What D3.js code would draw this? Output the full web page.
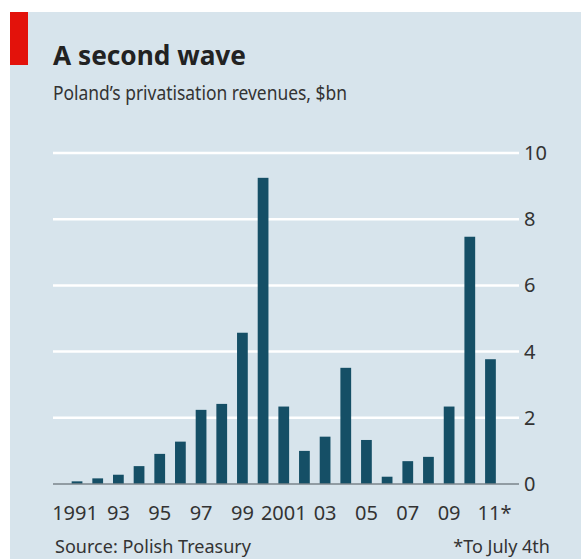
<!DOCTYPE html>
<html>
<head>
<meta charset="utf-8">
<script src="https://cdn.jsdelivr.net/npm/d3@7"></script>
<style>
  html, body { margin: 0; padding: 0; background: #ffffff; }
  svg { display: block; }
  text { font-family: "Noto Sans", "Open Sans", sans-serif; fill: #333333; }
</style>
</head>
<body>
<script>
// Poland's privatisation revenues, $bn, 1991-2011 (2011 to July 4th)
const years = [1991, 1992, 1993, 1994, 1995, 1996, 1997, 1998, 1999, 2000,
               2001, 2002, 2003, 2004, 2005, 2006, 2007, 2008, 2009, 2010, 2011];
const revenues = [0.08, 0.17, 0.28, 0.54, 0.91, 1.28, 2.24, 2.42, 4.57, 9.25,
                  2.34, 1.0, 1.43, 3.51, 1.33, 0.22, 0.69, 0.82, 2.34, 7.47, 3.77];
const yTicks = [0, 2, 4, 6, 8, 10];
const xTickYears = [1991, 1993, 1995, 1997, 1999, 2001, 2003, 2005, 2007, 2009, 2011];
const xTickLabels = ["1991", "93", "95", "97", "99", "2001", "03", "05", "07", "09", "11*"];

const W = 581, H = 559;
const svg = d3.select("body").append("svg").attr("width", W).attr("height", H);

// panel background and red tag
svg.append("rect").attr("x", 10).attr("y", 12).attr("width", W - 10).attr("height", H - 12)
  .attr("fill", "#d7e4ec");
svg.append("rect").attr("x", 10).attr("y", 12).attr("width", 18).attr("height", 53)
  .attr("fill", "#e3120b");

// headings
svg.append("text").attr("x", 53).attr("y", 65)
  .attr("font-size", 27).attr("font-weight", 700).style("fill", "#222")
  .attr("textLength", 193).attr("lengthAdjust", "spacingAndGlyphs")
  .text("A second wave");
svg.append("text").attr("x", 53).attr("y", 100)
  .attr("font-size", 19)
  .attr("textLength", 294).attr("lengthAdjust", "spacingAndGlyphs")
  .text("Poland\u2019s privatisation revenues, $bn");

// scales
const x = d3.scaleBand().domain(years).range([66.7, 500.8])
  .paddingInner(0.48).paddingOuter(0.24);
const y = d3.scaleLinear().domain([0, 10]).range([484, 153]);
const gridLeft = 53, gridRight = 519;

// horizontal gridlines
svg.append("g").selectAll("line").data(yTicks.filter(d => d > 0)).join("line")
  .attr("x1", gridLeft).attr("x2", gridRight)
  .attr("y1", d => y(d)).attr("y2", d => y(d))
  .attr("stroke", "#ffffff").attr("stroke-width", 2.5);

// right-hand value axis
const yAxis = d3.axisRight(y).tickValues(yTicks).tickSize(0).tickPadding(0);
const gy = svg.append("g").attr("transform", `translate(${gridRight + 5},0)`).call(yAxis);
gy.select(".domain").remove();
gy.selectAll("text").attr("font-size", 20).attr("font-family", "Noto Sans, sans-serif")
  .attr("fill", "#333");

// bars
svg.append("g").selectAll("rect").data(years).join("rect")
  .attr("x", d => x(d)).attr("width", x.bandwidth())
  .attr("y", (d, i) => y(revenues[i]))
  .attr("height", (d, i) => y(0) - y(revenues[i]))
  .attr("fill", "#154f66");

// baseline
svg.append("line").attr("x1", gridLeft).attr("x2", gridRight)
  .attr("y1", y(0)).attr("y2", y(0))
  .attr("stroke", "#7a858b").attr("stroke-width", 1.6);

// year axis
const xAxis = d3.axisBottom(x).tickValues(xTickYears).tickSize(0).tickPadding(0)
  .tickFormat(d => xTickLabels[xTickYears.indexOf(d)]);
const gx = svg.append("g").attr("transform", "translate(0,506)").call(xAxis);
gx.select(".domain").remove();
gx.selectAll("text").attr("font-size", 20).attr("font-family", "Noto Sans, sans-serif")
  .attr("fill", "#333")
  .attr("dy", "0.71em")
  .attr("dx", d => d === 2011 ? 4 : (d === 1991 ? -2 : 0));

// footer
svg.append("text").attr("x", 55).attr("y", 553).attr("font-size", 18)
  .attr("textLength", 196).attr("lengthAdjust", "spacingAndGlyphs")
  .text("Source: Polish Treasury");
svg.append("text").attr("x", 550).attr("y", 553).attr("font-size", 18)
  .attr("text-anchor", "end")
  .text("*To July 4th");
</script>
</body>
</html>
